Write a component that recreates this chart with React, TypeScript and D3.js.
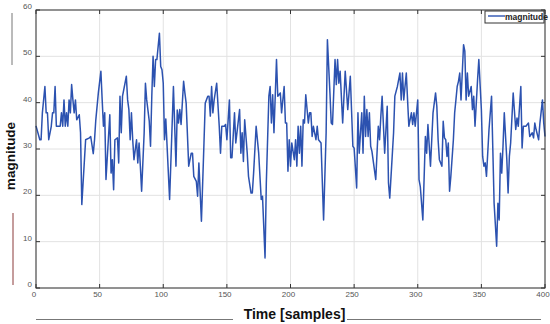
import React from "react";
import * as d3 from "d3";

// samples (index, value)
const sampleIdx = [
  0, 3, 4, 5, 7, 8, 9, 10, 12, 13, 14, 15, 16, 18, 19, 20, 21, 22, 23, 24, 25, 26, 27, 28, 29, 30,
  31, 32, 34, 35, 36, 39, 42, 43, 45, 46, 47, 49, 51, 52, 53, 54, 55, 58, 59, 60, 61, 62, 64, 65,
  66, 67, 68, 71, 72, 73, 74, 75, 76, 77, 79, 80, 81, 82, 83, 85, 86, 87, 89, 90, 91, 92, 93, 94,
  95, 97, 98, 99, 100, 101, 102, 105, 108, 110, 111, 112, 113, 114, 116, 117, 118, 120, 122, 123,
  124, 126, 127, 128, 130, 132, 133, 135, 136, 137, 138, 139, 140, 142, 144, 145, 146, 148, 149,
  150, 152, 153, 154, 156, 157, 160, 161, 162, 163, 164, 166, 167, 169, 170, 171, 173, 175, 177,
  178, 180, 181, 183, 184, 185, 186, 187, 189, 190, 192, 193, 195, 196, 197, 198, 199, 200, 201,
  203, 204, 205, 206, 207, 208, 209, 210, 211, 212, 214, 215, 216, 217, 218, 220, 221, 222, 224,
  226, 228, 229, 231, 232, 233, 235, 236, 237, 238, 239, 241, 243, 245, 247, 249, 250, 252, 253,
  254, 256, 257, 258, 259, 260, 261, 262, 263, 264, 267, 269, 270, 271, 272, 274, 276, 277, 278,
  279, 281, 282, 284, 286, 287, 288, 289, 291, 292, 293, 295, 296, 297, 298, 300, 301, 302, 304,
  306, 307, 308, 310, 311, 312, 314, 315, 316, 317, 319, 320, 321, 322, 323, 324, 325, 326, 328,
  329, 330, 331, 332, 333, 334, 336, 337, 338, 339, 340, 342, 343, 344, 345, 347, 348, 350, 351,
  352, 353, 354, 356, 358, 359, 360, 362, 363, 364, 365, 366, 367, 368, 370, 371, 372, 373, 375,
  377, 378, 379, 381, 382, 383, 385, 387, 388, 390, 391, 392, 393, 395, 396, 398, 399, 400,
];
const magnitude = [
  35, 32, 32, 37.8, 43.5, 37.8, 37.8, 32, 34.9, 37.8, 37.8, 43.5, 34.9, 34.9, 34.9, 37.8, 34.9, 40.6,
  34.9, 37.8, 34.9, 40.6, 37.8, 43.9, 40.6, 37.8, 40.6, 36.3, 37.4, 33.5, 18, 32, 32.4, 32.7, 29, 32,
  36.3, 42.1, 46.8, 40.6, 34.9, 37.8, 23.4, 37.4, 24.8, 27.7, 21.2, 32, 32.4, 27, 41.4, 33.5, 41.4,
  45.7, 40.6, 38.5, 32, 37.8, 32, 27.7, 32, 27, 31.3, 26.3, 20.9, 33.5, 44.2, 40.6, 36, 30.6, 41.4,
  50, 43.5, 49.3, 49.3, 55, 47.8, 47.1, 44.2, 32, 36.5, 19.1, 43.5, 26.3, 38.4, 35.6, 38.5, 35.3,
  44.6, 42.1, 39.9, 26.3, 29.1, 29.1, 24.1, 23, 19.8, 27, 14.4, 31.3, 39.9, 41.4, 41.4, 37.1, 43.5,
  37.8, 40.6, 44.2, 34.9, 29.1, 34.9, 34.9, 35.3, 32, 40.6, 28.1, 28.1, 37.8, 31.3, 38.5, 29.1, 33.5,
  27.3, 36.3, 29.1, 24.1, 20.5, 20.5, 24.8, 34.9, 29.1, 19.1, 19.8, 6.5, 22.7, 41.4, 43.5, 35.6,
  41.7, 33.5, 49.3, 41.4, 42.1, 37.8, 43.5, 35.6, 35.6, 25.2, 32, 26.3, 31.3, 27.7, 32, 26.3, 34.9,
  29.1, 34.9, 26.3, 36.3, 35.6, 41.7, 35.6, 37.8, 37.8, 32.7, 34.9, 32, 34.9, 32, 31.3, 14.7, 33.5,
  53.6, 42.1, 35.6, 35.3, 49.3, 43.9, 49.3, 44.2, 46.8, 35.6, 46.8, 38.5, 45.7, 30.6, 30.2, 21.6,
  37.8, 29.1, 37.8, 29.1, 41.4, 32.7, 38.5, 32.7, 37.8, 30.6, 29.5, 23.4, 34.9, 32, 37.1, 41.4, 29.1,
  39.2, 22.7, 19.4, 24.1, 33.5, 41.4, 43.5, 46.4, 40.6, 46.4, 40.6, 46.4, 40.6, 34.9, 37.8, 35.3,
  37.8, 34.9, 40.6, 23.4, 21.9, 14.7, 32.7, 29.1, 35.3, 26.3, 32, 37.8, 42.1, 39.2, 32, 27.7, 26.3,
  36, 32.4, 32, 28.4, 31.3, 20.9, 24.1, 32, 37.8, 40.6, 43.5, 44.6, 46.4, 40.6, 52.5, 51.1, 40.6,
  46.4, 41.4, 43.5, 38.5, 41.4, 34.9, 44.9, 49.3, 38.5, 28.4, 26.3, 27, 24.1, 34.2, 41.4, 29.9, 18.3,
  9, 18.3, 14.7, 29.1, 24.8, 30.6, 37.8, 27.7, 20.5, 28.4, 31.3, 42.1, 34.2, 36.7, 34.9, 43.5, 30.2,
  34.9, 34.9, 35.6, 32.7, 33.5, 32.4, 35.6, 34.2, 32, 35.6, 40.6, 35.6, 32.7,
];
const xTicks = [0, 50, 100, 150, 200, 250, 300, 350, 400];
const yTicks = [0, 10, 20, 30, 40, 50, 60];

const font = "'Liberation Sans', Arial, sans-serif";

export default function App() {
  const x = d3.scaleLinear().domain([0, 400]).range([36, 545]);
  const y = d3.scaleLinear().domain([0, 60]).range([288, 10]);
  const [x0, x1] = x.range();
  const [y0, y1] = y.range();

  const path = d3
    .line<number>()
    .x((_, i) => x(sampleIdx[i]))
    .y((d) => y(d))(magnitude) as string;

  return (
    <svg
      width={550}
      height={324}
      style={{ position: "absolute", left: 0, top: 0, background: "#fff" }}
      fontFamily={font}
    >
      {/* grid */}
      {xTicks.map((t) => (
        <line key={"gx" + t} x1={x(t)} x2={x(t)} y1={y1} y2={y0} stroke="#e2e2e2" strokeWidth={1} />
      ))}
      {yTicks.map((t) => (
        <line key={"gy" + t} x1={x0} x2={x1} y1={y(t)} y2={y(t)} stroke="#e2e2e2" strokeWidth={1} />
      ))}

      {/* inward ticks, all four sides */}
      {xTicks.map((t) => (
        <g key={"tx" + t} stroke="#333" strokeWidth={1}>
          <line x1={x(t)} x2={x(t)} y1={y0} y2={y0 - 4} />
          <line x1={x(t)} x2={x(t)} y1={y1} y2={y1 + 4} />
        </g>
      ))}
      {yTicks.map((t) => (
        <g key={"ty" + t} stroke="#333" strokeWidth={1}>
          <line x1={x0} x2={x0 + 4} y1={y(t)} y2={y(t)} />
          <line x1={x1} x2={x1 - 4} y1={y(t)} y2={y(t)} />
        </g>
      ))}

      {/* series */}
      <path d={path} fill="none" stroke="#2c52b0" strokeWidth={1.5} strokeLinejoin="round" />

      {/* box */}
      <rect x={x0} y={y1} width={x1 - x0} height={y0 - y1} fill="none" stroke="#333" strokeWidth={1} />

      {/* tick labels */}
      {xTicks.map((t) => (
        <text key={"lx" + t} x={x(t) - 2} y={y0 + 9} fontSize={8} fill="#555" textAnchor="middle">
          {t}
        </text>
      ))}
      {yTicks.map((t) => (
        <text key={"ly" + t} x={32} y={y(t) - 1} fontSize={8} fill="#555" textAnchor="end">
          {t}
        </text>
      ))}

      {/* axis titles */}
      <text x={294.5} y={318.5} fontSize={14} fontWeight="bold" textAnchor="middle" fill="#111">
        Time [samples]
      </text>
      <line x1={36} x2={233} y1={319.5} y2={319.5} stroke="#777" strokeWidth={1} />
      <line x1={347} x2={541} y1={319.5} y2={319.5} stroke="#777" strokeWidth={1} />
      <text
        transform="translate(15,156) rotate(-90)"
        fontSize={13.5}
        fontWeight="bold"
        textAnchor="middle"
        fill="#111"
      >
        magnitude
      </text>
      <line x1={12} x2={12} y1={13} y2={65} stroke="#777" strokeWidth={1} />
      <line x1={13} x2={13} y1={213} y2={285} stroke="#8b3a3a" strokeWidth={1} />

      {/* legend */}
      <rect x={485} y={11} width={59} height={12} fill="#fff" stroke="#333" strokeWidth={1} />
      <line x1={488} x2={505} y1={16} y2={16} stroke="#2c52b0" strokeWidth={1.4} />
      <text x={505} y={19.5} fontSize={8.5} fontWeight="bold" fill="#222">
        magnitude
      </text>
    </svg>
  );
}
